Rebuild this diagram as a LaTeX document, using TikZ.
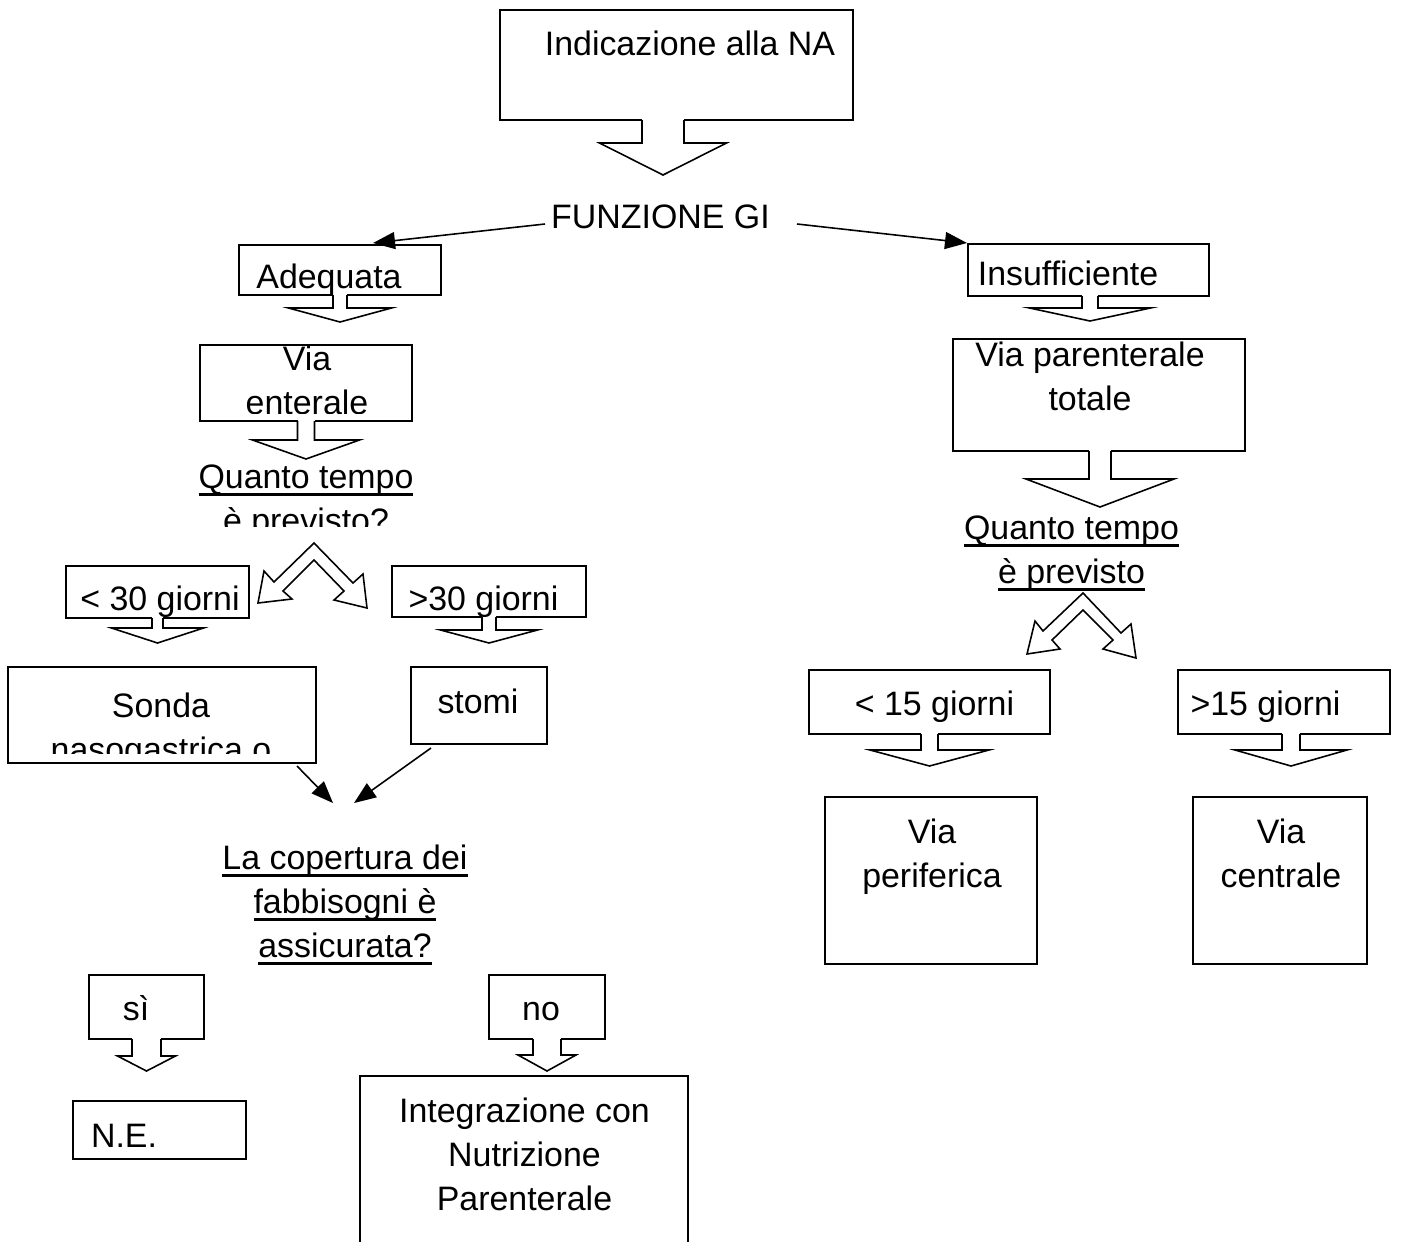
\documentclass[tikz,border=0pt]{standalone}
\usepackage{fontspec}
\setmainfont{Liberation Sans}
\usetikzlibrary{arrows.meta,calc,fit}

% box name, x shift, stem half width, stem length, head half width, head length
\newcommand{\downcall}[6]{%
  \fill[white] ($(#1.south)+(#2-#3,-1.5)$) rectangle ($(#1.south)+(#2+#3,#4)$);
  \draw[fill=white] ($(#1.south)+(#2-#3,0)$) -- ++(0,#4) -- ++(#3-#5,0) -- ++(#5,#6)
    -- ++(#5,-#6) -- ++(#3-#5,0) -- ++(0,-#4);
}
\newcommand{\undl}[1]{\setbox0\hbox{#1}\rlap{\rule[-4.3pt]{\wd0}{1.7pt}}\box0}

\begin{document}
\begin{tikzpicture}[x=0.02cm, y=-0.02cm, line width=0.9pt,
    >={Triangle[length=0.44cm,width=0.34cm]}]
        \tikzstyle{box} = [draw, inner sep=0pt, outer sep=0pt]
        \tikzstyle{txt} = [align=center, anchor=base, inner sep=0pt,
                           font=\fontsize{19.3}{25}\selectfont]
        \path[use as bounding box] (0,0) rectangle (1412,1241);
        \clip (0,0) rectangle (1412,1241);

        % boxes
        \node[box, fit={(500,10) (853,120)}] (na) {};
        \node[box, fit={(239,245) (441,295)}] (ade) {};
        \node[box, fit={(200,345) (412,421)}] (ent) {};
        \node[box, fit={(66,566) (249,618)}] (lt30) {};
        \node[box, fit={(392,566) (586,617)}] (gt30) {};
        \node[box, fit={(8,667) (316,763)}] (sonda) {};
        \node[box, fit={(411,667) (547,744)}] (stomi) {};
        \node[box, fit={(89,975) (204,1039)}] (si) {};
        \node[box, fit={(489,975) (605,1039)}] (no) {};
        \node[box, fit={(73,1101) (246,1159)}] (ne) {};
        \node[box, fit={(360,1076) (688,1280)}] (integr) {};
        \node[box, fit={(968,244) (1209,296)}] (insuf) {};
        \node[box, fit={(953,339) (1245,451)}] (vpt) {};
        \node[box, fit={(809,670) (1050,734)}] (lt15) {};
        \node[box, fit={(1178,670) (1390,734)}] (gt15) {};
        \node[box, fit={(825,797) (1037,964)}] (vperif) {};
        \node[box, fit={(1193,797) (1367,964)}] (vcentr) {};

        % block arrows under the boxes
        \downcall{na}{-13.5}{21}{23}{63.5}{32}
        \downcall{ade}{0}{7}{13}{51.5}{14}
        \downcall{ent}{0}{8.5}{19}{53.5}{19}
        \downcall{lt30}{0}{5.5}{10}{46}{15}
        \downcall{gt30}{0}{7}{13}{48.5}{13}
        \downcall{insuf}{1.5}{8}{12}{60.5}{13}
        \downcall{vpt}{1}{11}{28}{74}{28}
        \downcall{si}{0}{14.5}{17}{29}{15}
        \downcall{no}{0}{14}{16}{29}{16}
        \downcall{lt15}{0}{8.5}{16}{59.5}{16}
        \downcall{gt15}{7}{9}{16}{56}{16}

        % two-headed bent arrows
        \draw[fill=white] (314,543) -- (274,582) -- (264,571) -- (258,603) -- (292,599)
            -- (283,591) -- (314,560) -- (344,591) -- (334,600) -- (367,608)
            -- (363,574) -- (353,583) -- cycle;
        \draw[fill=white] (1083,593) -- (1043,631) -- (1035,621) -- (1027,654) -- (1060,649)
            -- (1052,640) -- (1083,610) -- (1113,640) -- (1103,649) -- (1136,658)
            -- (1131,624) -- (1121,633) -- cycle;

        % texts (anchor base = last line)
        \node[txt] (na-t) at (690,55) {Indicazione alla NA};
        \node[txt] (fgi) at (660.5,228) {FUNZIONE GI};
        \node[txt] (ade-t) at (329,288) {Adequata};
        \begin{scope}
          \clip (200,345) rectangle (412,413);
          \node[txt] (ent-t) at (307,414) {Via\\enterale};
        \end{scope}
        \begin{scope}
          \clip (150,440) rectangle (460,526);
          \node[txt] (qt1) at (306,532) {\undl{Quanto tempo}\\\undl{è previsto?}};
        \end{scope}
        \node[txt] (lt30-t) at (160,610) {< 30 giorni};
        \node[txt] (gt30-t) at (483.5,610) {>30 giorni};
        \begin{scope}
          \clip (8,667) rectangle (316,753);
          \node[txt] (sonda-t) at (161,761) {Sonda\\nasogastrica o};
        \end{scope}
        \node[txt] (stomi-t) at (478,713) {stomi};
        \node[txt] (cop) at (345,957) {\undl{La copertura dei}\\\undl{fabbisogni è}\\\undl{assicurata?}};
        \node[txt] (si-t) at (136,1020) {sì};
        \node[txt] (no-t) at (541,1020) {no};
        \node[txt] (ne-t) at (124,1147) {N.E.};
        \node[txt] (integr-t) at (524.5,1210) {Integrazione con\\Nutrizione\\Parenterale};
        \node[txt] (insuf-t) at (1068,285) {Insufficiente};
        \node[txt] (vpt-t) at (1090,410) {Via parenterale\\totale};
        \node[txt] (qt2) at (1071.5,583) {\undl{Quanto tempo}\\\undl{è previsto}};
        \node[txt] (lt15-t) at (934.5,715) {< 15 giorni};
        \node[txt] (gt15-t) at (1265.5,715) {>15 giorni};
        \node[txt] (vperif-t) at (932,887) {Via\\periferica};
        \node[txt] (vcentr-t) at (1281,887) {Via\\centrale};

        % connectors
        \coordinate (fgiL) at (545,224);
        \coordinate (fgiR) at (797,224);
        \coordinate (copL) at (333,803);
        \coordinate (copR) at (354,803);
        \draw[->] (fgiL) -- ($(ade.north)+(33,-2)$);
        \draw[->] (fgiR) -- ($(insuf.north west)+(-1,-1)$);
        \draw[->] ($(sonda.south east)+(-19,3)$) -- (copL);
        \draw[->] ($(stomi.south west)+(20,4)$) -- (copR);
      \end{tikzpicture}
\end{document}
